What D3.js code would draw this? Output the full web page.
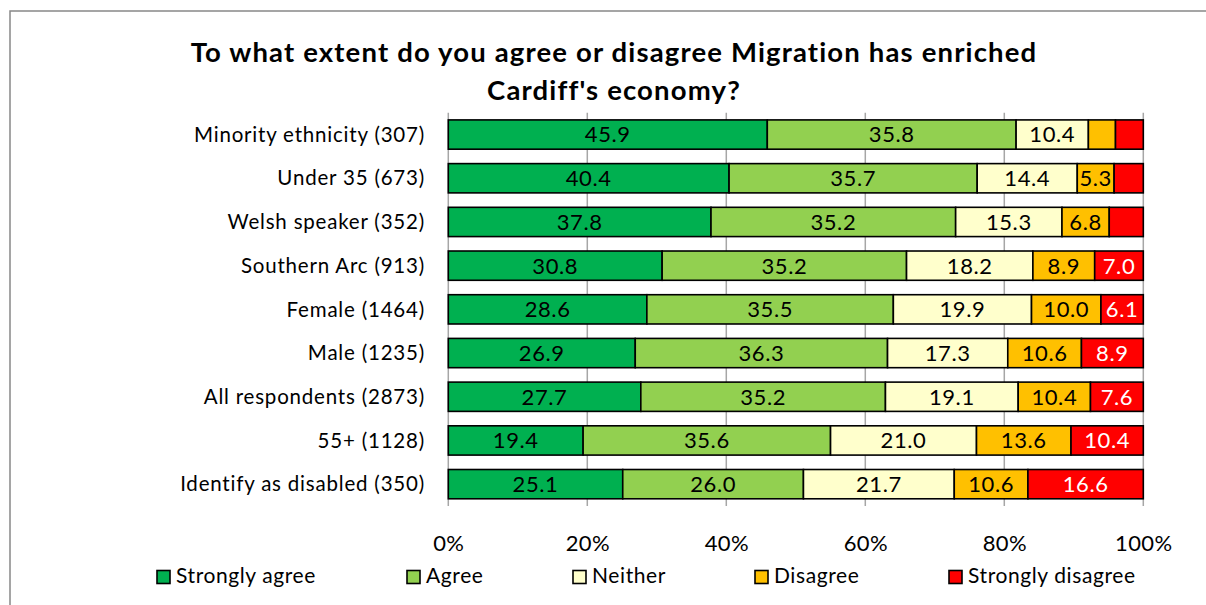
<!DOCTYPE html>
<html><head><meta charset="utf-8">
<script src="https://cdn.jsdelivr.net/npm/d3@7"></script>
<style>
html,body{margin:0;padding:0;background:#fff;}
svg{display:block;font-family:Lato, "Open Sans", sans-serif;}
</style></head>
<body>
<svg id="c" width="1206" height="605"></svg>
<script>
const categories = ["Minority ethnicity (307)","Under 35 (673)","Welsh speaker (352)","Southern Arc (913)","Female (1464)","Male (1235)","All respondents (2873)","55+ (1128)","Identify as disabled (350)"];
const seriesNames = ["Strongly agree","Agree","Neither","Disagree","Strongly disagree"];
const stronglyAgree = [45.9,40.4,37.8,30.8,28.6,26.9,27.7,19.4,25.1];
const agree = [35.8,35.7,35.2,35.2,35.5,36.3,35.2,35.6,26.0];
const neither = [10.4,14.4,15.3,18.2,19.9,17.3,19.1,21.0,21.7];
const disagree = [3.9,5.3,6.8,8.9,10.0,10.6,10.4,13.6,10.6];
const stronglyDisagree = [4.0,4.2,4.9,7.0,6.1,8.9,7.6,10.4,16.6];
const tickValues = [0,0.2,0.4,0.6,0.8,1.0];
const colors = ["#00B050","#92D050","#FFFFCC","#FFC000","#FF0000"];
const labelColors = ["#000","#000","#000","#000","#fff"];

const seriesVals = [stronglyAgree, agree, neither, disagree, stronglyDisagree];
const rows = categories.map((c,i)=>{
  const o = {cat:c};
  seriesNames.forEach((s,j)=>o[s]=seriesVals[j][i]);
  return o;
});
const stack = d3.stack().keys(seriesNames).offset(d3.stackOffsetExpand);
const stacked = stack(rows);

const svg = d3.select("#c");
// outer border
svg.append("rect").attr("x",10).attr("y",11).attr("width",1250).attr("height",650)
  .attr("fill","none").attr("stroke","#888").attr("stroke-width",1.5);

const x = d3.scaleLinear().domain([0,1]).range([448.3,1143.3]);
const y = d3.scaleBand().domain(categories).range([112.7,506]).paddingInner(0.33).paddingOuter(0.165);

// title
const title = svg.append("text").attr("text-anchor","middle").attr("font-weight","bold")
  .attr("font-size",27.5).attr("letter-spacing",1.15).attr("fill","#000");
title.append("tspan").attr("x",614).attr("y",62).text("To what extent do you agree or disagree Migration has enriched");
title.append("tspan").attr("x",614).attr("y",100).text("Cardiff's economy?");

// gridlines
svg.append("g").selectAll("line").data(tickValues).join("line")
  .attr("x1",d=>x(d)).attr("x2",d=>x(d)).attr("y1",112.7).attr("y2",506)
  .attr("stroke","#a6a6a6").attr("stroke-width",1.5);

// bars
const g = svg.append("g");
stacked.forEach((layer,j)=>{
  const lg = g.append("g");
  lg.selectAll("rect").data(layer).join("rect")
    .attr("x",d=>x(d[0])).attr("width",d=>x(d[1])-x(d[0]))
    .attr("y",d=>y(d.data.cat)).attr("height",y.bandwidth())
    .attr("fill",colors[j]).attr("stroke","#000").attr("stroke-width",1.6);
  lg.selectAll("text").data(layer.filter(d=>d.data[seriesNames[j]]>=5)).join("text")
    .attr("x",d=>(x(d[0])+x(d[1]))/2).attr("y",d=>y(d.data.cat)+y.bandwidth()/2)
    .attr("dy","0.36em").attr("text-anchor","middle").attr("font-size",22).attr("letter-spacing",0.6)
    .attr("fill",labelColors[j]).text(d=>d.data[seriesNames[j]].toFixed(1));
});

// y axis labels
svg.append("g").selectAll("text").data(categories).join("text")
  .attr("x",425).attr("y",d=>y(d)+y.bandwidth()/2).attr("dy","0.35em")
  .attr("text-anchor","end").attr("font-size",20.5).attr("letter-spacing",0.8).attr("fill","#000").text(d=>d);

// x axis
const xAxis = d3.axisBottom(x).tickValues(tickValues).tickFormat(d3.format(".0%")).tickSize(0).tickPadding(0);
const ax = svg.append("g").attr("transform","translate(0,535)").call(xAxis);
ax.select(".domain").remove();
ax.selectAll("text").attr("font-size",22).attr("letter-spacing",0.4).attr("fill","#000").attr("font-family","Lato, sans-serif").attr("dy","0.71em");

// legend
const legX = [157,407,573,755,949];
const leg = svg.append("g");
seriesNames.forEach((s,j)=>{
  leg.append("rect").attr("x",legX[j]).attr("y",570.5).attr("width",13).attr("height",13)
    .attr("fill",colors[j]).attr("stroke","#000").attr("stroke-width",1.6);
  leg.append("text").attr("x",legX[j]+19).attr("y",583)
    .attr("font-size",21).attr("letter-spacing",0.6).attr("fill","#000").text(s);
});
</script>
</body></html>
